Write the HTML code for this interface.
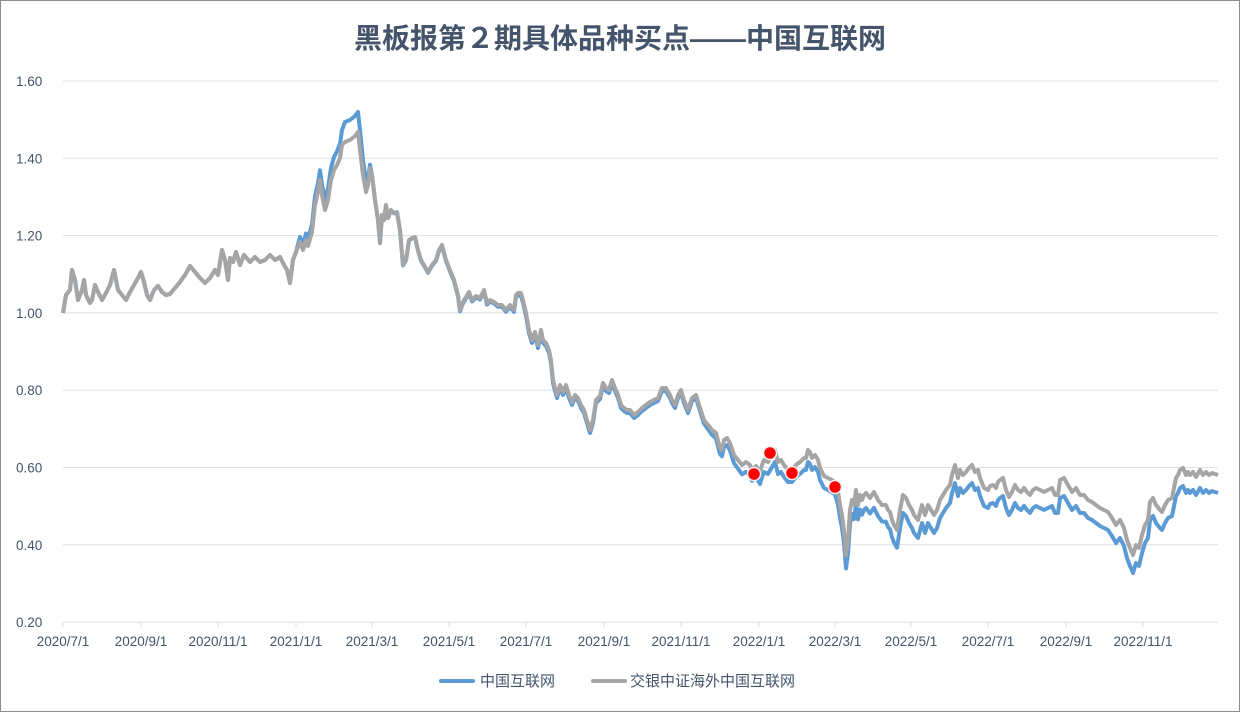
<!DOCTYPE html>
<html><head><meta charset="utf-8"><style>
html,body{margin:0;padding:0;background:#fff}
svg{display:block}
text{font-family:"Liberation Sans","Noto Sans CJK SC",sans-serif;fill:#44546a}
</style></head><body>
<svg id="s" width="1240" height="712" viewBox="0 0 1240 712">
<rect x="0.5" y="0.5" width="1239" height="711" fill="#fff" stroke="#8c8c8c"/>
<text x="620" y="48" text-anchor="middle" font-size="28" font-weight="bold">黑板报第２期具体品种买点——中国互联网</text>
<g id="grid" stroke="#d9e1ea" stroke-width="1"></g>
<g id="ylab" font-size="13.5"></g>
<g id="xlab" font-size="13.5"></g>
<g id="lines"></g>
<g>
<line x1="441" y1="681" x2="473" y2="681" stroke="#5b9bd5" stroke-width="4" stroke-linecap="round"/>
<text x="480" y="686" font-size="15">中国互联网</text>
<line x1="593" y1="681" x2="625" y2="681" stroke="#a5a5a5" stroke-width="4" stroke-linecap="round"/>
<text x="630" y="686" font-size="15">交银中证海外中国互联网</text>
</g>
</svg>
<script>
var NS="http://www.w3.org/2000/svg";
function el(t,a,p){var e=document.createElementNS(NS,t);for(var k in a)e.setAttribute(k,a[k]);document.getElementById(p).appendChild(e);return e;}
var labs=["1.60","1.40","1.20","1.00","0.80","0.60","0.40","0.20"];
for(var i=0;i<8;i++){var y=81+i*77.3;el("line",{x1:63,x2:1218,y1:y,y2:y},"grid");var t=el("text",{x:16,y:y+5},"ylab");t.textContent=labs[i];}
var xs=[[63,"2020/7/1"],[141,"2020/9/1"],[218,"2020/11/1"],[296,"2021/1/1"],[372,"2021/3/1"],[449,"2021/5/1"],[526,"2021/7/1"],[604,"2021/9/1"],[681,"2021/11/1"],[759,"2022/1/1"],[835,"2022/3/1"],[911,"2022/5/1"],[988,"2022/7/1"],[1066,"2022/9/1"],[1143,"2022/11/1"]];
xs.forEach(function(p){el("line",{x1:p[0],x2:p[0],y1:622,y2:627},"grid");var t=el("text",{x:p[0],y:646,"text-anchor":"middle"},"xlab");t.textContent=p[1];});
var g=[63,313,66,295,70,290,72,270,75,280,78,300,82,290,84,280,86,295,90,303,92,300,95,285,98,292,102,300,106,293,110,285,114,270,118,290,122,295,126,300,130,292,134,285,138,278,141,272,144,282,147,295,150,300,154,290,158,286,162,292,166,295,170,294,175,288,180,282,185,275,190,266,195,272,200,278,205,283,210,278,215,270,218,275,222,250,225,260,228,280,230,258,233,262,236,252,240,265,244,255,250,262,255,257,260,262,265,260,270,255,275,260,280,257,283,263,287,270,290,283,293,260,296,252,300,242,303,250,306,240,308,246,312,232,315,205,318,192,320,180,322,195,325,210,328,200,331,180,334,170,337,165,340,158,342,145,345,142,350,140,355,136,358,132,360,150,363,175,366,192,368,185,370,168,372,175,375,200,378,220,380,243,382,215,384,220,386,205,388,218,391,210,394,213,397,212,400,230,403,265,406,260,409,240,412,238,415,237,418,250,421,260,424,265,428,272,432,265,436,260,439,250,442,245,446,260,450,270,454,280,458,295,460,310,463,302,466,297,469,292,472,300,476,296,480,298,484,290,487,303,490,300,494,302,498,305,502,305,506,310,510,305,514,310,516,295,518,293,521,293,523,300,526,313,529,330,532,340,535,332,538,345,541,330,543,340,546,343,549,350,551,360,553,380,555,388,557,395,560,385,563,392,566,385,569,395,572,402,575,395,578,398,581,405,584,410,587,420,590,430,593,420,596,400,600,396,603,383,606,388,609,390,612,380,615,388,618,395,621,405,624,408,627,410,630,410,634,415,638,412,642,408,646,405,650,402,654,400,658,398,662,388,666,388,670,395,672,400,675,405,678,395,681,390,684,400,688,410,692,398,696,395,700,408,704,420,708,425,712,430,716,433,720,448,722,450,724,440,727,438,730,443,734,455,738,460,742,465,746,462,750,465,752,470,756,466,760,472,762,465,764,460,768,462,772,455,775,450,778,462,781,460,784,465,788,470,792,470,796,465,800,462,804,458,806,458,808,450,810,452,812,458,815,455,818,460,820,468,824,476,828,478,832,480,835,482,838,492,840,505,842,515,844,530,846,555,848,540,850,510,852,500,854,505,856,490,858,505,860,495,862,500,864,495,866,493,870,498,874,492,878,500,882,505,886,505,888,510,890,512,892,520,894,525,897,530,900,510,903,495,906,498,909,505,912,510,914,515,918,520,922,505,925,515,928,505,931,510,934,515,937,510,940,500,943,495,946,490,950,485,952,475,955,465,958,478,960,470,963,475,966,472,969,468,972,465,975,472,978,470,980,478,984,488,988,490,990,486,993,485,996,488,998,482,1000,480,1003,478,1006,490,1009,497,1012,492,1015,485,1018,490,1021,492,1024,488,1027,492,1030,495,1033,490,1036,488,1040,490,1044,492,1048,490,1052,488,1055,495,1058,495,1060,480,1064,478,1068,485,1072,492,1076,488,1080,495,1084,495,1088,500,1092,502,1096,505,1100,508,1104,510,1108,512,1112,518,1116,525,1120,520,1124,528,1127,540,1130,548,1133,555,1136,545,1139,548,1142,535,1145,525,1148,520,1150,502,1153,498,1156,505,1160,510,1162,512,1165,505,1168,500,1172,498,1174,488,1176,478,1178,475,1180,470,1183,468,1186,475,1188,472,1190,475,1193,472,1196,477,1200,470,1203,475,1206,472,1209,475,1212,473,1218,475];
function off(x){
 if(x<300)return 0;
 if(x<343)return -5-(x-300)/43*10;
 if(x<=360)return -20;
 if(x<372)return -20+(x-360)/12*20;
 if(x<520)return (x-372)/148*2;
 if(x<700)return 3;
 if(x<760)return 3+(x-700)/60*9;
 if(x<830)return 12;
 if(x<900)return 12+(x-830)/70*6;
 return 18;}
var gp=[],bp=[];
for(var i=0;i<g.length;i+=2){gp.push(g[i]+","+g[i+1]);bp.push(g[i]+","+(g[i+1]+off(g[i])).toFixed(1));}
el("polyline",{points:bp.join(" "),fill:"none",stroke:"#5b9bd5","stroke-width":4,"stroke-linejoin":"round"},"lines");
el("polyline",{points:gp.join(" "),fill:"none",stroke:"#a5a5a5","stroke-width":4,"stroke-linejoin":"round"},"lines");
[[754,474],[770,453],[792,473],[835,487]].forEach(function(p){el("circle",{cx:p[0],cy:p[1],r:6.5,fill:"#ff0000",stroke:"#f2f2f2","stroke-width":1.5},"lines");});
</script>
</body></html>
